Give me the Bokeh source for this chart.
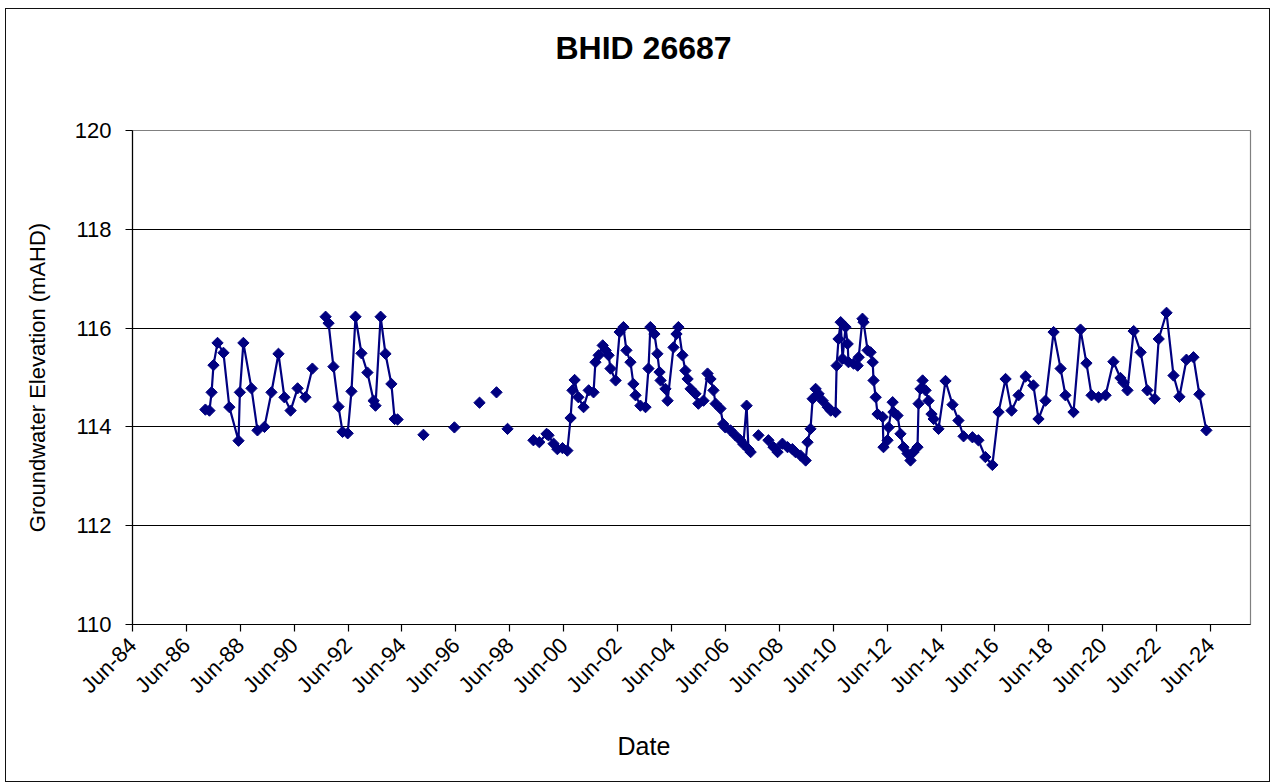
import math
from datetime import datetime, timedelta
from bokeh.plotting import figure
from bokeh.models import Range1d, FixedTicker, DatetimeTickFormatter, Title
from bokeh.embed import file_html
from bokeh.resources import INLINE

# ---- data (decimal years, groundwater elevation mAHD) ----
years_1987_1991 = [1987.12, 1987.27, 1987.35, 1987.42, 1987.57, 1987.79, 1988.01, 1988.35, 1988.40, 1988.53,
                   1988.83, 1989.05, 1989.31, 1989.57, 1989.83, 1990.05, 1990.28, 1990.54, 1990.83, 1991.09]
elev_1987_1991 = [114.35, 114.33, 114.70, 115.25, 115.70, 115.50, 114.40, 113.72, 114.70, 115.70,
                  114.78, 113.93, 114.00, 114.70, 115.48, 114.60, 114.33, 114.78, 114.60, 115.18]

years_1991_1994 = [1991.58, 1991.69, 1991.87, 1992.06, 1992.21, 1992.40, 1992.54, 1992.69, 1992.91, 1993.13,
                   1993.36, 1993.43, 1993.62, 1993.80, 1994.02, 1994.14, 1994.25]
elev_1991_1994 = [116.23, 116.10, 115.22, 114.41, 113.90, 113.87, 114.72, 116.23, 115.49, 115.10,
                  114.53, 114.43, 116.23, 115.48, 114.87, 114.16, 114.15]

years_isolated_1995_1998 = [1995.21, 1996.36, 1997.29, 1997.92, 1998.33]
elev_isolated_1995_1998 = [113.84, 113.99, 114.49, 114.70, 113.96]

years_1999_2007 = [1999.29, 1999.51, 1999.78, 1999.85, 2000.04, 2000.18, 2000.37, 2000.55, 2000.67, 2000.74,
                   2000.82, 2000.96, 2001.15, 2001.34, 2001.52, 2001.59, 2001.71, 2001.86, 2001.97, 2002.08,
                   2002.15, 2002.34, 2002.49, 2002.63, 2002.74, 2002.89, 2003.00, 2003.08, 2003.26, 2003.45,
                   2003.56, 2003.63, 2003.78, 2003.89, 2003.97, 2004.01, 2004.19, 2004.27, 2004.49, 2004.60,
                   2004.67, 2004.82, 2004.93, 2005.01, 2005.12, 2005.30, 2005.41, 2005.60, 2005.75, 2005.86,
                   2005.97, 2006.05, 2006.23, 2006.33, 2006.41, 2006.60, 2006.78, 2006.97, 2007.08, 2007.20,
                   2007.27, 2007.35]
elev_1999_2007 = [113.73, 113.69, 113.86, 113.83, 113.66, 113.55, 113.57, 113.52, 114.18, 114.74,
                  114.95, 114.60, 114.40, 114.74, 114.70, 115.31, 115.45, 115.65, 115.55, 115.45,
                  115.18, 114.94, 115.92, 116.02, 115.55, 115.31, 114.87, 114.64, 114.43, 114.40,
                  115.18, 116.02, 115.88, 115.48, 115.11, 114.94, 114.77, 114.53, 115.61, 115.88,
                  116.02, 115.45, 115.14, 114.97, 114.77, 114.67, 114.47, 114.53, 115.08, 114.97,
                  114.74, 114.47, 114.37, 114.06, 113.99, 113.93, 113.83, 113.73, 113.65, 114.43,
                  113.55, 113.49]

years_isolated_2007 = [2007.64]
elev_isolated_2007 = [113.83]

years_2008_2024 = [2008.01, 2008.20, 2008.35, 2008.53, 2008.72, 2008.90, 2009.01, 2009.20, 2009.39, 2009.46,
                   2009.57, 2009.65, 2009.76, 2009.87, 2010.02, 2010.21, 2010.32, 2010.50, 2010.54, 2010.61,
                   2010.69, 2010.76, 2010.87, 2010.95, 2010.98, 2011.17, 2011.32, 2011.36, 2011.50, 2011.54,
                   2011.69, 2011.80, 2011.88, 2011.91, 2011.99, 2012.06, 2012.25, 2012.28, 2012.43, 2012.47,
                   2012.62, 2012.65, 2012.80, 2012.91, 2013.02, 2013.17, 2013.28, 2013.39, 2013.54, 2013.58,
                   2013.65, 2013.73, 2013.84, 2013.95, 2014.06, 2014.14, 2014.32, 2014.58, 2014.84, 2015.06,
                   2015.25, 2015.58, 2015.80, 2016.06, 2016.32, 2016.55, 2016.81, 2017.03, 2017.29, 2017.55,
                   2017.84, 2018.03, 2018.29, 2018.59, 2018.85, 2019.03, 2019.33, 2019.59, 2019.81, 2020.00,
                   2020.26, 2020.52, 2020.81, 2021.07, 2021.18, 2021.33, 2021.56, 2021.82, 2022.07, 2022.34,
                   2022.49, 2022.78, 2023.04, 2023.26, 2023.52, 2023.78, 2024.00, 2024.26]
elev_2008_2024 = [113.73, 113.59, 113.49, 113.66, 113.59, 113.55, 113.49, 113.42, 113.32, 113.69,
                  113.96, 114.57, 114.77, 114.67, 114.53, 114.40, 114.33, 114.30, 115.24, 115.78,
                  116.12, 115.38, 116.02, 115.68, 115.31, 115.28, 115.24, 115.41, 116.19, 116.12,
                  115.55, 115.51, 115.31, 114.94, 114.60, 114.26, 114.20, 113.59, 113.73, 113.99,
                  114.50, 114.30, 114.23, 113.86, 113.59, 113.46, 113.32, 113.49, 113.59, 114.47,
                  114.77, 114.94, 114.74, 114.53, 114.26, 114.16, 113.96, 114.93, 114.45, 114.13,
                  113.81, 113.79, 113.73, 113.39, 113.23, 114.30, 114.97, 114.33, 114.64, 115.02,
                  114.84, 114.16, 114.53, 115.92, 115.18, 114.64, 114.30, 115.97, 115.29, 114.64,
                  114.60, 114.64, 115.32, 114.99, 114.90, 114.74, 115.94, 115.51, 114.74, 114.57,
                  115.78, 116.31, 115.04, 114.61, 115.36, 115.41, 114.66, 113.93]

tick_labels = ["Jun-84", "Jun-86", "Jun-88", "Jun-90", "Jun-92", "Jun-94", "Jun-96", "Jun-98", "Jun-00",
               "Jun-02", "Jun-04", "Jun-06", "Jun-08", "Jun-10", "Jun-12", "Jun-14", "Jun-16", "Jun-18",
               "Jun-20", "Jun-22", "Jun-24"]
y_ticks = [110, 112, 114, 116, 118, 120]

segments = [
    (years_1987_1991, elev_1987_1991),
    (years_1991_1994, elev_1991_1994),
    *[([a], [b]) for a, b in zip(years_isolated_1995_1998, elev_isolated_1995_1998)],
    (years_1999_2007, elev_1999_2007),
    (years_isolated_2007, elev_isolated_2007),
    (years_2008_2024, elev_2008_2024),
]


def to_dt(y):
    yr = int(math.floor(y))
    return datetime(yr, 1, 1) + timedelta(days=(y - yr) * 365.25)


line_x, line_y, pt_x, pt_y = [], [], [], []
for xs, ys in segments:
    for a, b in zip(xs, ys):
        line_x.append(to_dt(a)); line_y.append(b)
        pt_x.append(to_dt(a)); pt_y.append(b)
    line_x.append(line_x[-1]); line_y.append(float("nan"))

NAVY = "#000080"
FONT = "Liberation Sans"

p = figure(width=1265, height=774, output_backend="svg", toolbar_location=None,
           x_axis_type="datetime",
           x_range=Range1d(datetime(1984, 6, 1), datetime(2025, 11, 24)),
           y_range=Range1d(110, 120),
           min_border_left=126, min_border_right=21, min_border_top=121, min_border_bottom=159,
           background_fill_color="white", border_fill_color="white",
           outline_line_color="#808080", outline_line_width=1.2)
# outer chart border (Excel chart area frame)
p.styles = {"border": "1.5px solid #111111", "margin": "8px 0px -30px 5px"}

# empty spacer panel between plot area and title (closest to the frame)
p.add_layout(Title(text=" ", text_font_size="1px", standoff=60), "above")
# chart title, placed further out
p.add_layout(Title(text="BHID 26687", text_font=FONT, text_font_style="bold", text_font_size="32px",
                   text_color="black", align="left", offset=423, standoff=4), "above")

p.line(line_x, line_y, line_color=NAVY, line_width=2.2)
p.scatter(pt_x, pt_y, marker="square", angle=math.pi / 4, size=8,
          fill_color=NAVY, line_color=NAVY, line_width=1)

# axes
tick_dates = [datetime(1984 + 2 * i, 6, 1) for i in range(len(tick_labels))]
tick_ms = [(d - datetime(1970, 1, 1)).total_seconds() * 1000 for d in tick_dates]
p.xaxis.ticker = FixedTicker(ticks=tick_ms)
fmt = "%b-%y"
p.xaxis.formatter = DatetimeTickFormatter(milliseconds=fmt, seconds=fmt, minsec=fmt, minutes=fmt,
                                          hourmin=fmt, hours=fmt, days=fmt, months=fmt, years=fmt)
p.xaxis.major_label_orientation = math.pi / 4
p.yaxis.ticker = FixedTicker(ticks=y_ticks)

for ax in (p.xaxis[0], p.yaxis[0]):
    ax.axis_line_color = "black"
    ax.axis_line_width = 1.2
    ax.major_tick_line_color = "black"
    ax.major_tick_line_width = 1.2
    ax.major_tick_in = 0
    ax.major_tick_out = 7
    ax.minor_tick_line_color = None
    ax.major_label_text_font = FONT
    ax.major_label_text_color = "black"
    ax.major_label_text_font_size = "22px"

p.xaxis.major_label_standoff = 10
p.yaxis.major_label_standoff = 14
p.yaxis.axis_label = "Groundwater Elevation (mAHD)"
p.yaxis.axis_label_text_font = FONT
p.yaxis.axis_label_text_font_style = "normal"
p.yaxis.axis_label_text_font_size = "22px"
p.yaxis.axis_label_text_color = "black"
p.yaxis.axis_label_standoff = 22

p.xgrid.grid_line_color = None
p.ygrid.grid_line_color = "black"
p.ygrid.grid_line_width = 1.2

# x-axis title, centred on the whole chart area
p.add_layout(Title(text="Date", text_font=FONT, text_font_size="25px", text_font_style="normal",
                   text_color="black", align="left", offset=485, standoff=40), "below")

open("out.html", "w").write(file_html(p, INLINE))
